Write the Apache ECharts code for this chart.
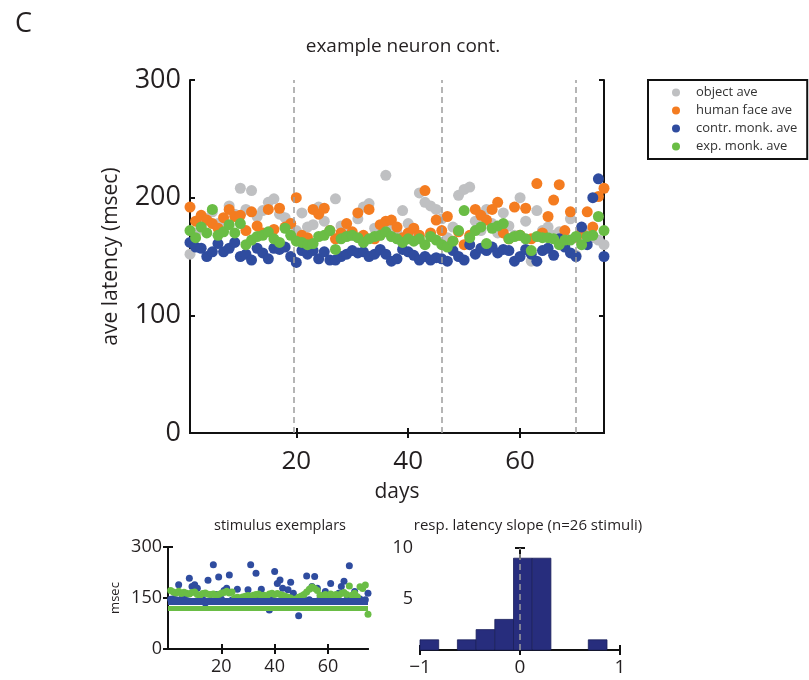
<!DOCTYPE html>
<html>
<head>
<meta charset="utf-8">
<script src="https://cdn.jsdelivr.net/npm/echarts@6/dist/echarts.min.js"></script>
<style>
html, body { margin: 0; padding: 0; background: #fff; }
#chart { width: 809px; height: 680px; }
</style>
</head>
<body>
<div id="chart"></div>
<script>
// Recording days (one average per day)
const days = [1,2,3,4,5,6,7,8,9,10,11,12,13,14,15,16,17,18,19,20,21,22,23,24,25,
  26,27,28,29,30,31,32,33,34,35,36,37,38,39,40,41,42,43,44,45,46,47,48,49,50,
  51,52,53,54,55,56,57,58,59,60,61,62,63,64,65,66,67,68,69,70,71,72,73,74,75];

// Average response latency (msec) per stimulus class
const objectAve = [152,170,176,182,188,178,180,193,186,208,190,206,184,189,196,199,186,183,178,172,
  187,175,177,192,180,172,199,176,170,168,182,192,195,174,168,219,175,170,189,178,
  172,204,196,193,190,182,166,175,202,207,209,180,172,190,178,170,187,176,168,200,
  180,146,189,172,175,168,171,166,182,151,162,170,166,164,160];
const humanFaceAve = [192,180,185,181,178,174,183,190,184,185,172,188,176,170,190,173,191,175,178,200,
  168,166,190,186,191,172,165,170,178,171,187,168,190,165,177,180,181,175,166,170,
  174,168,206,170,181,172,184,163,171,160,168,190,185,181,190,196,170,165,192,168,
  191,165,212,170,184,198,211,172,188,166,170,188,175,201,208];
const contrMonkAve = [162,158,157,150,154,161,154,157,162,150,152,147,157,153,148,157,156,158,150,145,
  155,152,155,148,154,147,147,150,152,155,153,154,150,152,156,152,146,148,156,154,
  151,147,150,147,149,148,146,155,150,147,160,152,157,155,158,153,156,155,146,150,
  156,152,146,155,157,151,165,158,153,150,175,160,200,216,150];
const expMonkAve = [172,166,175,170,190,168,171,177,170,178,160,164,167,168,171,165,162,174,168,163,
  162,160,161,167,168,172,156,165,167,168,166,162,165,167,168,171,167,165,162,165,
  163,165,160,167,164,160,158,163,172,189,166,172,175,161,174,176,178,165,167,168,
  165,155,167,166,166,165,160,164,164,167,160,167,168,184,172];

// Days at which the recording condition changed
const sessionBreaks = [19.5, 46, 70];

// Single-exemplar latencies (msec) per day
const exemplarContr = [146,148,145,189,147,144,160,208,184,189,179,145,146,135,202,143,248,160,212,147,
  172,179,218,144,146,176,145,143,148,174,248,145,223,147,176,144,142,115,146,228,
  193,203,179,143,174,196,164,146,98,147,145,215,145,184,213,179,148,144,169,146,
  193,145,148,164,184,199,144,245,146,169,145,147,143,145,164];
const exemplarExp = [172,168,165,170,163,167,164,162,166,168,160,158,163,165,161,160,162,158,160,164,
  166,170,165,168,150,152,150,153,155,157,154,158,160,162,156,158,148,162,164,160,
  163,160,158,155,152,150,145,147,152,156,160,168,176,182,178,172,158,155,160,157,
  162,158,160,157,163,166,160,185,158,164,154,183,178,188,102];
// Latency baselines of the two exemplar sets (msec)
const baselineContr = 139;
const baselineExp = 119;

// Histogram of per-stimulus latency slopes
const slopeBinEdges = [-1.0,-0.813,-0.626,-0.439,-0.252,-0.065,0.122,0.309,0.496,0.683,0.870];
const slopeCounts = [1,0,1,2,3,9,9,0,0,1];

const COLORS = {
  object: '#bfc0c2',
  face: '#f47c20',
  contr: '#2f4c9f',
  exp: '#6abd45',
  hist: '#272d7d'
};
const FONT = 'Open Sans';
const TXT = '#231f20';

const pairs = (xs, ys) => ys.map((v, i) => [xs[i], v]);

// Builds the boxed-frame axes (ticks inward on all four sides)
function boxAxes(gridIndex, opt) {
  const line = { show: true, lineStyle: { color: '#111', width: 2 } };
  const tick = (vals) => ({ show: true, inside: true, length: 5, customValues: vals,
                            lineStyle: { color: '#111', width: 2 } });
  const x = [
    { type: 'value', gridIndex, position: 'bottom', min: opt.xmin, max: opt.xmax,
      axisLine: line, axisTick: tick(opt.xticks), splitLine: { show: false },
      axisLabel: { customValues: opt.xlabels || opt.xticks, fontSize: opt.xfs, color: TXT,
                   fontFamily: FONT, margin: opt.xmargin,
                   formatter: v => (v < 0 ? '\u2212' + Math.abs(v) : String(v)) },
      name: opt.xname || '', nameLocation: 'middle', nameGap: opt.xnameGap || 0,
      nameTextStyle: { fontSize: opt.xnfs || 12, color: TXT, fontFamily: FONT } },
    { type: 'value', gridIndex, position: 'top', min: opt.xmin, max: opt.xmax,
      axisLine: line, axisTick: tick(opt.xticks), axisLabel: { show: false },
      splitLine: { show: false } }
  ];
  const y = [
    { type: 'value', gridIndex, position: 'left', min: opt.ymin, max: opt.ymax,
      axisLine: line, axisTick: tick(opt.yticks), splitLine: { show: false },
      axisLabel: { customValues: opt.ylabels || opt.yticks, fontSize: opt.yfs, color: TXT,
                   fontFamily: FONT, margin: opt.ymargin },
      name: opt.yname || '', nameLocation: 'middle', nameGap: opt.ynameGap || 0,
      nameRotate: 90,
      nameTextStyle: { fontSize: opt.ynfs || 12, color: TXT, fontFamily: FONT } },
    { type: 'value', gridIndex, position: 'right', min: opt.ymin, max: opt.ymax,
      axisLine: line, axisTick: tick(opt.yticks), axisLabel: { show: false },
      splitLine: { show: false } }
  ];
  return { x, y };
}

const mainAx = boxAxes(0, { xmin: 1, xmax: 75, xticks: [20, 40, 60], xfs: 26, xmargin: 16,
  xname: 'days', xnameGap: 49, xnfs: 21,
  ymin: 0, ymax: 300, yticks: [0, 100, 200, 300], yfs: 27, ymargin: 9,
  yname: 'ave latency (msec)', ynameGap: 68, ynfs: 21 });
const exAx = boxAxes(1, { xmin: 0, xmax: 75, xticks: [20, 40, 60], xfs: 18, xmargin: 9,
  ymin: 0, ymax: 300, yticks: [0, 150, 300], yfs: 18, ymargin: 6,
  yname: 'msec', ynameGap: 46, ynfs: 13 });
const histAx = boxAxes(2, { xmin: -1, xmax: 1, xticks: [-1, 0, 1], xfs: 19, xmargin: 8,
  ymin: 0, ymax: 10, yticks: [0, 5, 10], ylabels: [5, 10], yfs: 18, ymargin: 7 });

const dashLine = { color: '#9d9d9d', width: 1.5, type: [6, 4] };

const option = {
  backgroundColor: '#fff',
  animation: false,
  textStyle: { fontFamily: FONT },
  title: [
    { text: 'C', left: 10, top: 6, textStyle: { fontSize: 27, fontWeight: 'normal', color: TXT, fontFamily: FONT } },
    { text: 'example neuron cont.', left: 398, top: 32, textAlign: 'center',
      textStyle: { fontSize: 19, fontWeight: 'normal', color: TXT, fontFamily: FONT } },
    { text: 'stimulus exemplars', left: 275, top: 513, textAlign: 'center',
      textStyle: { fontSize: 14.5, fontWeight: 'normal', color: TXT, fontFamily: FONT } },
    { text: 'resp. latency slope (n=26 stimuli)', left: 523, top: 513, textAlign: 'center',
      textStyle: { fontSize: 15, fontWeight: 'normal', color: TXT, fontFamily: FONT } }
  ],
  legend: {
    data: ['object ave', 'human face ave', 'contr. monk. ave', 'exp. monk. ave'],
    orient: 'vertical', left: 648, top: 80,
    icon: 'circle', itemWidth: 30, itemHeight: 8, itemGap: 5,
    padding: [6, 10, 6, 24],
    borderColor: '#111', borderWidth: 2,
    textStyle: { fontSize: 13, color: '#333', fontFamily: FONT }
  },
  grid: [
    { left: 190, top: 80, width: 414, height: 353 },
    { left: 168, top: 547, width: 200, height: 102 },
    { left: 420, top: 548, width: 200, height: 102 }
  ],
  xAxis: [...mainAx.x, ...exAx.x, ...histAx.x],
  yAxis: [...mainAx.y, ...exAx.y, ...histAx.y],
  series: [
    // dashed session boundaries behind the dots
    { type: 'scatter', xAxisIndex: 0, yAxisIndex: 0, data: [], z: 1,
      markLine: { silent: true, symbol: 'none', label: { show: false },
                  lineStyle: dashLine, data: sessionBreaks.map(v => ({ xAxis: v })) } },
    { name: 'object ave', type: 'scatter', xAxisIndex: 0, yAxisIndex: 0, symbolSize: 11, z: 2,
      itemStyle: { color: COLORS.object, opacity: 1 }, data: pairs(days, objectAve) },
    { name: 'human face ave', type: 'scatter', xAxisIndex: 0, yAxisIndex: 0, symbolSize: 11, z: 3,
      itemStyle: { color: COLORS.face, opacity: 1 }, data: pairs(days, humanFaceAve) },
    { name: 'contr. monk. ave', type: 'scatter', xAxisIndex: 0, yAxisIndex: 0, symbolSize: 11, z: 4,
      itemStyle: { color: COLORS.contr, opacity: 1 }, data: pairs(days, contrMonkAve) },
    { name: 'exp. monk. ave', type: 'scatter', xAxisIndex: 0, yAxisIndex: 0, symbolSize: 11, z: 5,
      itemStyle: { color: COLORS.exp, opacity: 1 }, data: pairs(days, expMonkAve) },

    // stimulus exemplars panel
    { type: 'scatter', xAxisIndex: 2, yAxisIndex: 2, symbolSize: 7, z: 2,
      itemStyle: { color: COLORS.contr, opacity: 1 }, data: pairs(days, exemplarContr),
      markLine: { silent: true, symbol: 'none', label: { show: false },
                  lineStyle: { color: COLORS.contr, width: 7, type: 'solid' },
                  data: [{ yAxis: baselineContr }] } },
    { type: 'scatter', xAxisIndex: 2, yAxisIndex: 2, symbolSize: 7, z: 3,
      itemStyle: { color: COLORS.exp, opacity: 1 }, data: pairs(days, exemplarExp),
      markLine: { silent: true, symbol: 'none', label: { show: false },
                  lineStyle: { color: COLORS.exp, width: 5, type: 'solid' },
                  data: [{ yAxis: baselineExp }] } },

    // slope histogram
    { type: 'custom', xAxisIndex: 4, yAxisIndex: 4, z: 2,
      data: slopeCounts.map((c, i) => [slopeBinEdges[i], slopeBinEdges[i + 1], c]),
      renderItem: function (params, api) {
        const c = api.value(2);
        if (!c) return null;
        const p0 = api.coord([api.value(0), c]);
        const p1 = api.coord([api.value(1), 0]);
        return { type: 'rect',
          shape: { x: p0[0], y: p0[1], width: p1[0] - p0[0], height: p1[1] - p0[1] },
          style: { fill: COLORS.hist, stroke: '#1b1f5a', lineWidth: 0.8 } };
      },
      markLine: { silent: true, symbol: 'none', label: { show: false }, z: 10,
                  lineStyle: dashLine, data: [{ xAxis: 0 }] } }
  ]
};

const chart = echarts.init(document.getElementById('chart'), null, { renderer: 'canvas' });
chart.setOption(option);
</script>
</body>
</html>
